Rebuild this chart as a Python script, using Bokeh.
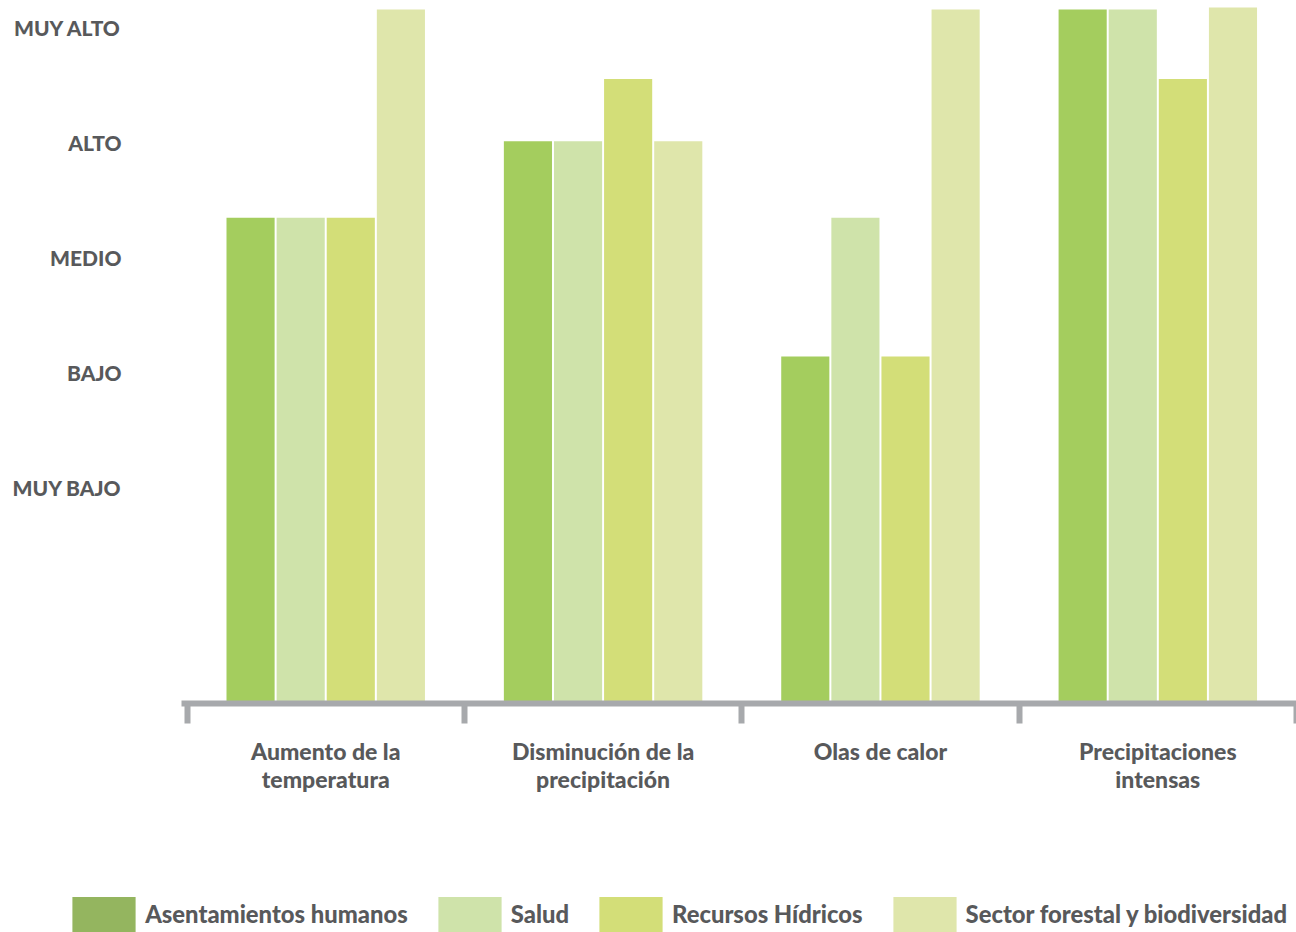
import numpy as np
from bokeh.plotting import figure
from bokeh.layouts import column
from bokeh.models import FixedTicker, Range1d, Legend, LegendItem
from bokeh.embed import file_html
from bokeh.resources import INLINE

# ---- data ----
categories = ["Aumento de la\ntemperatura", "Disminución de la\nprecipitación",
              "Olas de calor", "Precipitaciones\nintensas"]
series = ["Asentamientos humanos", "Salud", "Recursos Hídricos",
          "Sector forestal y biodiversidad"]
asentamientos = [7, 8.1, 5, 10]
salud = [7, 8.1, 7, 10]
recursos = [7, 9, 5, 9]
sector = [10, 8.1, 10, 10.03]
level_labels = ["MUY BAJO", "BAJO", "MEDIO", "ALTO", "MUY ALTO"]
level_pos = [3.11, 4.77, 6.43, 8.08, 9.74]

# ---- styles ----
bar_colors = ["#a4cd5e", "#cfe3aa", "#d3de78", "#dfe6ab"]
legend_colors = ["#94b55f", "#cfe3aa", "#d3de78", "#dfe6ab"]
TEXT = "#58595b"
GRAY = "#a7a9ac"
FONT = "Lato Heavy"

W = 1296
MAIN_H, LEG_H = 880, 52
LEFT = 181
frame_h = 703
px_per_unit = 69.4

p = figure(width=W, height=MAIN_H, output_backend="svg", toolbar_location=None,
           x_range=Range1d(-0.52, 3.50), y_range=Range1d(0, frame_h / px_per_unit),
           min_border_left=LEFT, min_border_right=0, min_border_top=0,
           min_border_bottom=MAIN_H - frame_h)
p.outline_line_color = None
p.grid.visible = False
p.background_fill_color = "white"
p.border_fill_color = "white"

xs = np.arange(len(categories))
offsets = [-0.271, -0.0903, 0.0903, 0.271]
bw = 0.1735
values = [asentamientos, salud, recursos, sector]
for vals, off, col in zip(values, offsets, bar_colors):
    p.vbar(x=xs + off, top=vals, bottom=0, width=bw, fill_color=col, line_color=None)

# x axis
xa = p.xaxis[0]
xa.ticker = FixedTicker(ticks=list(xs), minor_ticks=list(np.arange(len(categories) + 1) - 0.5))
xa.major_label_overrides = {int(i): c for i, c in zip(xs, categories)}
xa.axis_line_color = GRAY
xa.axis_line_width = 6
xa.major_tick_line_color = None
xa.major_tick_in = 0
xa.major_tick_out = 0
xa.minor_tick_line_color = GRAY
xa.minor_tick_line_width = 6
xa.minor_tick_in = 0
xa.minor_tick_out = 20
xa.major_label_standoff = 13
xa.major_label_text_font = FONT
xa.major_label_text_font_size = "23px"
xa.major_label_text_color = TEXT
xa.major_label_text_line_height = 1.02

# y axis
ya = p.yaxis[0]
ya.ticker = FixedTicker(ticks=level_pos, minor_ticks=[])
ya.major_label_overrides = {v: t for v, t in zip(level_pos, level_labels)}
ya.axis_line_color = None
ya.major_tick_line_color = None
ya.minor_tick_line_color = None
ya.major_tick_in = 0
ya.major_tick_out = 0
ya.major_label_standoff = 60
ya.major_label_text_font = FONT
ya.major_label_text_font_size = "21px"
ya.major_label_text_color = TEXT

# legend figure
lg = figure(width=W, height=LEG_H, output_backend="svg", toolbar_location=None,
            x_range=Range1d(0, 1), y_range=Range1d(0, 1),
            min_border_left=0, min_border_right=0, min_border_top=0, min_border_bottom=0)
lg.axis.visible = False
lg.grid.visible = False
lg.outline_line_color = None
lg.background_fill_color = "white"
lg.border_fill_color = "white"
for fig in (p, lg):
    if "frame_align" in fig.properties():
        fig.frame_align = False
items = []
for name, col in zip(series, legend_colors):
    r = lg.vbar(x=[-10], top=[0], width=0.1, fill_color=col, line_color=None)
    items.append(LegendItem(label=name, renderers=[r]))
gw, gh = 63 / 0.8, 35 / 0.8
legend = Legend(items=items, orientation="horizontal",
                location=(72 - 0.1 * gw, -0.1 * gh),
                glyph_width=round(gw), glyph_height=round(gh), spacing=22, label_standoff=2,
                padding=0, margin=0, border_line_color=None, background_fill_alpha=0,
                label_text_font=FONT, label_text_font_size="23.8px", label_text_color=TEXT)
lg.add_layout(legend, "center")

layout = column(p, lg, spacing=0)
open("out.html", "w").write(file_html(layout, INLINE))
